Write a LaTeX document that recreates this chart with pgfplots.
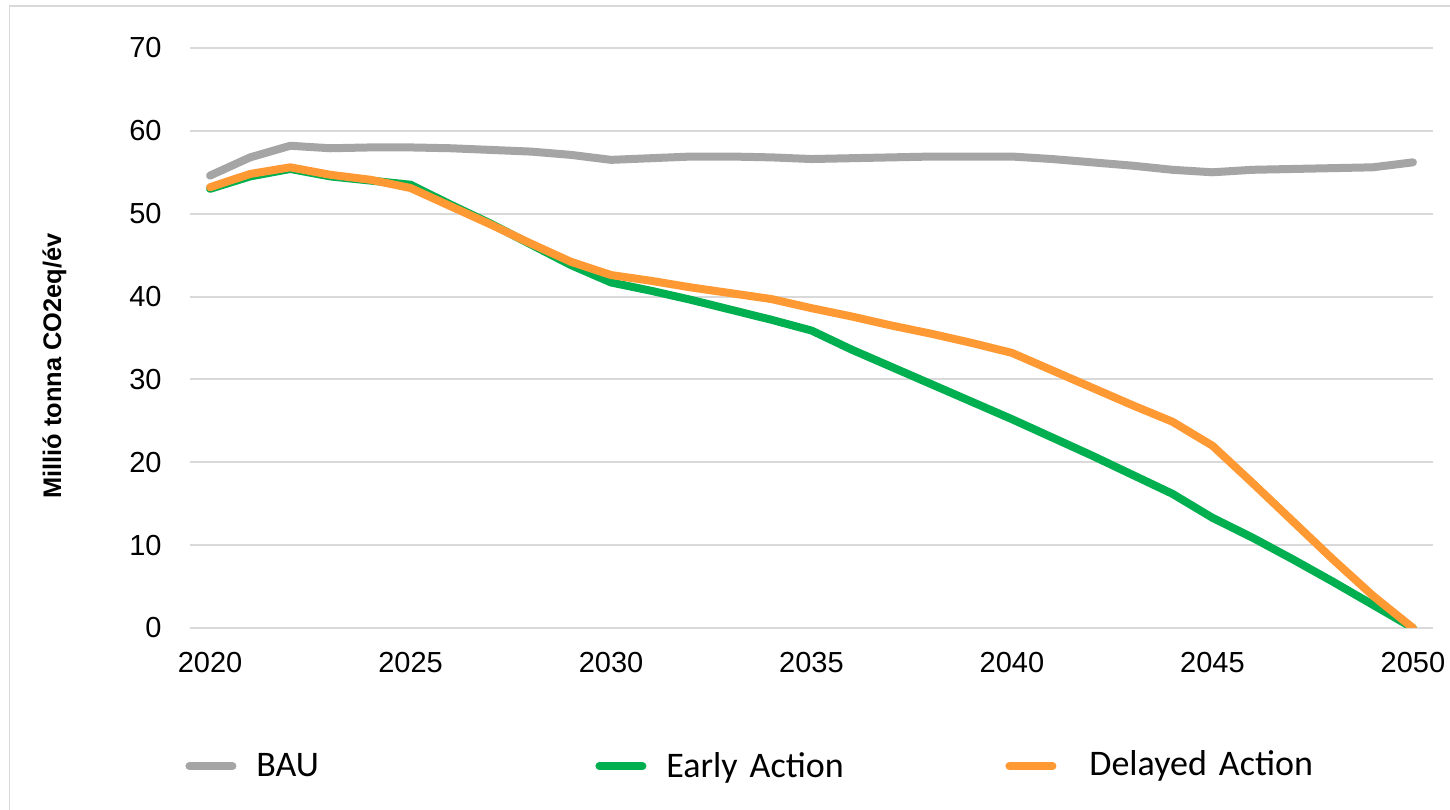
\documentclass[border=0pt]{standalone}
\usepackage{fontspec}
\setmainfont{Liberation Sans}
\newfontfamily\legfont{Carlito}
\usepackage{pgfplots}
\usepackage{pgfplotstable}
\pgfplotsset{compat=1.18}
\definecolor{bau}{HTML}{A5A5A5}
\definecolor{early}{HTML}{00B050}
\definecolor{delayed}{HTML}{FF9933}
\definecolor{gridc}{HTML}{D9D9D9}

\pgfplotstableread{
year bau early delayed
2020 54.6 53.0 53.2
2021 56.8 54.5 54.8
2022 58.2 55.4 55.6
2023 57.9 54.5 54.7
2024 58.0 54.0 54.1
2025 58.0 53.5 53.1
2026 57.9 51.1 50.9
2027 57.7 48.8 48.7
2028 57.5 46.3 46.4
2029 57.1 43.8 44.2
2030 56.5 41.7 42.6
2031 56.7 40.7 41.9
2032 56.9 39.6 41.1
2033 56.9 38.4 40.4
2034 56.8 37.2 39.7
2035 56.6 35.9 38.6
2036 56.7 33.6 37.6
2037 56.8 31.5 36.5
2038 56.9 29.4 35.5
2039 56.9 27.3 34.4
2040 56.9 25.2 33.2
2041 56.6 23.0 31.1
2042 56.2 20.8 29.0
2043 55.8 18.5 26.9
2044 55.3 16.2 24.9
2045 55.0 13.3 22.0
2046 55.3 10.9 17.5
2047 55.4 8.3 12.9
2048 55.5 5.6 8.3
2049 55.6 2.8 3.9
2050 56.2 0.0 0.0
}\data

\begin{document}
\begin{tikzpicture}
\useasboundingbox (0,0) rectangle (725bp,405bp);
\fill[white] (0,0) rectangle (725bp,405bp);
\draw[gridc, line width=0.9bp] (4.75bp,0) -- (4.75bp,402bp) -- (725bp,402bp);
\begin{axis}[
  at={(95bp,91bp)}, anchor=south west,
  scale only axis, width=621.5bp, height=290bp,
  xmin=2019.5, xmax=2050.5, ymin=0, ymax=70,
  xtick={2020,2025,...,2050}, ytick={0,10,...,70},
  ymajorgrids, grid style={gridc, line width=1bp},
  axis line style={draw=none}, major tick length=0pt,
  /pgf/number format/assume math mode=true,
  /pgf/number format/1000 sep={},
  ticklabel style={font=\fontsize{14.5bp}{17bp}\selectfont},
  xticklabel style={anchor=north, inner sep=0pt, yshift=-12bp},
  yticklabel style={anchor=east, inner sep=0pt, xshift=-14bp},
  ylabel={\bfseries Millió tonna CO2eq/év},
  ylabel style={font=\fontsize{12.7bp}{15bp}\selectfont, at={(axis description cs:-0.109,0.452)}, anchor=center, inner sep=0pt},
  legend columns=3,
  legend style={draw=none, fill=none, at={(-0.004,-0.238)}, anchor=west, inner sep=0pt,
    font=\legfont\fontsize{18bp}{21bp}\selectfont, column sep=10bp,
    nodes={text width=159.5bp, inner sep=0pt, align=left}},
  legend image code/.code={\draw[#1, line width=4bp, line cap=round] (0bp,0bp) -- (21.5bp,0bp);},
  every axis plot/.append style={line width=4bp, line cap=round, line join=round, no markers},
]
\addplot[bau] table[x=year, y=bau] {\data};
\addlegendentry{BAU}
\addplot[early] table[x=year, y=early] {\data};
\addlegendentry{Early Action}
\addplot[delayed] table[x=year, y=delayed] {\data};
\addlegendentry{\hspace*{6.5bp}\raisebox{2bp}{Delayed Action}}
\end{axis}
\end{tikzpicture}
\end{document}
